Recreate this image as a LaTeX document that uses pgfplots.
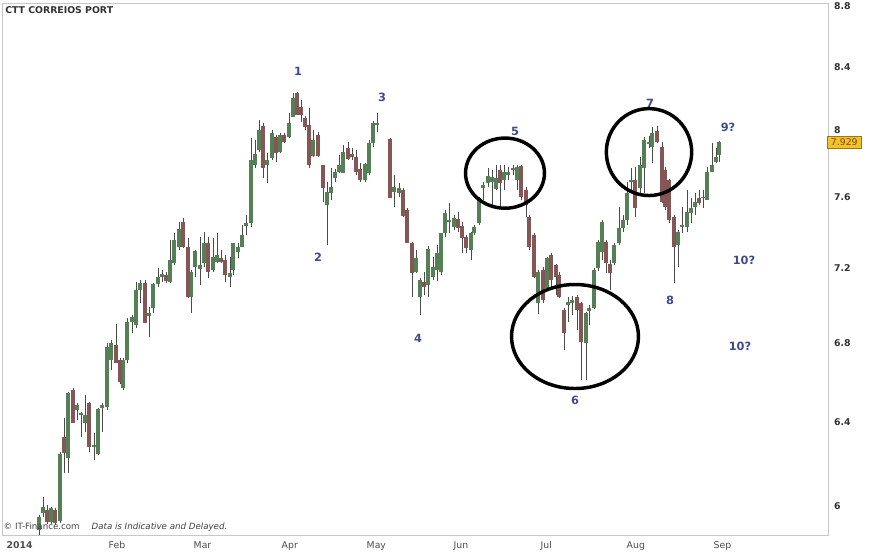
\documentclass[border=0pt]{standalone}
\usepackage{pgfplots}
\pgfplotsset{compat=1.18}
\usepackage{pgfplotstable}
\usepackage{fontspec}
\setmainfont{DejaVu Sans}

\definecolor{upbody}{HTML}{557F55}
\definecolor{dnbody}{HTML}{855656}
\definecolor{wick}{HTML}{4A4A4A}
\definecolor{wave}{HTML}{3E4A8E}
\definecolor{frame}{HTML}{C8C8C8}
\definecolor{tag}{HTML}{F2C12E}
\definecolor{tagedge}{HTML}{9A7A10}
\definecolor{tagtext}{HTML}{8A4A00}

% daily candles, x = position along the time axis
\pgfplotstableread{
x o h l c
39 5.890 5.960 5.860 5.950
43 5.968 6.041 5.950 5.995
51 5.927 5.995 5.918 5.991
60 5.931 6.253 5.922 6.244
68 6.225 6.548 6.154 6.543
77 6.458 6.493 6.409 6.483
81 6.433 6.450 6.326 6.443
85 6.394 6.533 6.350 6.433
94 6.277 6.345 6.215 6.287
98 6.244 6.468 6.239 6.463
102 6.468 6.490 6.350 6.483
107 6.473 6.798 6.458 6.778
111 6.710 6.814 6.659 6.798
123 6.568 6.720 6.558 6.710
127 6.710 6.930 6.695 6.908
132 6.908 6.946 6.850 6.935
136 6.893 7.124 6.877 7.080
140 7.080 7.135 7.010 7.119
149 6.940 6.988 6.830 6.956
153 6.983 7.119 6.956 7.113
158 7.113 7.200 7.096 7.151
162 7.151 7.189 7.124 7.167
170 7.124 7.356 7.119 7.245
174 7.228 7.396 7.217 7.356
179 7.317 7.459 7.300 7.419
191 7.042 7.189 6.956 7.178
195 7.206 7.300 7.151 7.294
200 7.195 7.373 7.108 7.217
204 7.228 7.402 7.206 7.339
213 7.189 7.367 7.178 7.261
217 7.234 7.396 7.228 7.272
230 7.151 7.261 7.096 7.173
233 7.189 7.339 7.162 7.339
238 7.289 7.339 7.256 7.317
242 7.317 7.442 7.317 7.384
246 7.436 7.499 7.384 7.453
251 7.453 7.954 7.430 7.821
255 7.792 7.942 7.774 7.858
259 7.882 8.065 7.870 8.004
267 7.792 7.864 7.685 7.821
272 7.833 8.004 7.821 7.986
280 7.870 7.986 7.864 7.973
289 7.960 8.108 7.954 8.047
293 8.084 8.234 8.084 8.202
313 7.846 8.004 7.839 7.942
327 7.557 7.691 7.328 7.632
331 7.627 7.774 7.586 7.662
335 7.715 7.768 7.691 7.750
339 7.750 7.852 7.744 7.792
343 7.744 7.912 7.744 7.870
365 7.703 7.803 7.691 7.798
369 7.744 7.942 7.733 7.924
373 7.924 8.059 7.900 8.047
377 8.034 8.108 7.992 8.047
394 7.632 7.733 7.545 7.662
399 7.627 7.685 7.603 7.656
416 7.178 7.300 7.173 7.256
420 7.042 7.146 6.946 7.135
428 7.108 7.323 7.042 7.306
433 7.151 7.261 7.135 7.206
437 7.189 7.330 7.130 7.283
441 7.178 7.396 7.162 7.396
445 7.396 7.528 7.373 7.510
449 7.459 7.568 7.396 7.470
454 7.430 7.499 7.413 7.482
471 7.300 7.402 7.245 7.396
474 7.396 7.442 7.384 7.430
479 7.453 7.603 7.442 7.597
483 7.656 7.691 7.586 7.673
488 7.685 7.774 7.662 7.727
492 7.691 7.762 7.557 7.721
496 7.650 7.792 7.644 7.715
504 7.703 7.792 7.644 7.750
508 7.733 7.780 7.703 7.750
513 7.762 7.792 7.733 7.774
517 7.703 7.792 7.644 7.780
538 7.010 7.189 6.951 7.178
547 7.091 7.261 7.086 7.256
568 6.999 7.042 6.908 7.015
572 7.010 7.048 6.946 7.026
586 6.798 6.962 6.608 6.956
589 6.967 6.999 6.893 6.983
594 6.983 7.200 6.978 7.189
598 7.200 7.356 7.184 7.345
602 7.289 7.470 7.245 7.459
614 7.228 7.339 7.217 7.328
619 7.339 7.545 7.328 7.424
623 7.424 7.499 7.402 7.470
627 7.470 7.691 7.442 7.627
631 7.691 7.774 7.632 7.703
640 7.656 7.839 7.627 7.792
644 7.774 7.960 7.627 7.942
649 7.918 7.966 7.894 7.930
652 7.900 8.022 7.803 7.986
678 7.328 7.413 7.206 7.402
682 7.430 7.545 7.396 7.442
687 7.430 7.644 7.402 7.516
691 7.510 7.597 7.453 7.539
695 7.545 7.627 7.499 7.574
703 7.597 7.644 7.539 7.603
707 7.586 7.780 7.586 7.750
712 7.750 7.924 7.750 7.792
716 7.809 7.894 7.803 7.839
719 7.852 7.940 7.809 7.929
}\upcandles

\pgfplotstableread{
x o h l c
47 5.982 6.005 5.918 5.927
55 5.982 5.991 5.913 5.922
64 6.326 6.419 6.154 6.248
73 6.558 6.568 6.394 6.394
89 6.493 6.498 6.253 6.277
116 6.788 6.898 6.695 6.695
120 6.710 6.720 6.588 6.598
145 7.119 7.135 6.903 6.903
166 7.162 7.178 7.119 7.130
183 7.459 7.482 7.311 7.317
188 7.317 7.367 7.037 7.042
208 7.339 7.373 7.146 7.178
221 7.256 7.300 7.228 7.234
225 7.245 7.272 7.124 7.162
263 8.028 8.047 7.715 7.774
276 7.960 7.973 7.809 7.864
284 7.973 7.986 7.924 7.930
297 8.234 8.240 8.096 8.096
301 8.146 8.190 8.053 8.096
305 8.078 8.090 8.004 8.022
309 8.034 8.139 7.774 7.792
318 7.973 7.992 7.839 7.846
323 7.792 7.795 7.574 7.656
348 7.894 7.930 7.821 7.827
352 7.858 7.894 7.821 7.839
356 7.839 7.882 7.733 7.750
360 7.768 7.803 7.691 7.703
390 7.948 7.954 7.597 7.597
403 7.644 7.656 7.488 7.493
407 7.528 7.539 7.339 7.339
412 7.339 7.345 7.042 7.173
424 7.124 7.178 7.053 7.096
458 7.476 7.516 7.402 7.424
462 7.436 7.459 7.283 7.367
466 7.373 7.384 7.283 7.311
500 7.762 7.792 7.545 7.685
521 7.786 7.792 7.586 7.603
526 7.644 7.662 7.488 7.557
529 7.488 7.499 7.300 7.317
534 7.384 7.396 7.146 7.151
543 7.189 7.206 7.010 7.026
551 7.272 7.283 7.096 7.135
556 7.217 7.220 7.053 7.151
559 7.162 7.178 7.037 7.042
564 6.972 6.983 6.762 6.850
577 7.042 7.053 6.866 6.972
581 7.010 7.015 6.608 6.804
606 7.345 7.356 7.173 7.228
610 7.223 7.245 7.080 7.173
635 7.703 7.780 7.488 7.539
657 7.998 8.028 7.924 7.930
662 7.900 7.930 7.568 7.574
665 7.762 7.780 7.528 7.545
669 7.703 7.710 7.453 7.470
674 7.488 7.499 7.119 7.317
699 7.597 7.644 7.557 7.568
}\downcandles

\pgfplotsset{
  candle/.style 2 args={draw=none, mark=none, forget plot,
    error bars/.cd, y dir=plus, y explicit, error mark=none,
    error bar style={draw=#1, line width=#2, solid}},
}

\begin{document}
\begin{tikzpicture}
\begin{axis}[
  scale only axis, width=619.5pt, height=399pt,
  xmin=2, xmax=828, ymode=log, ymin=5.868, ymax=8.822,
  axis line style={draw=frame},
  major tick length=0pt, yminorticks=false, xminorticks=false,
  xtick={2,104,189,277,362,449,536,622,709},
  xticklabels={\textbf{2014},Feb,Mar,Apr,May,Jun,Jul,Aug,Sep},
  x tick label style={anchor=north west, yshift=-1.5pt, font=\fontsize{7}{8}\selectfont, text=black!70},
  ytick={6,6.4,6.8,7.2,7.6,8,8.4,8.8},
  yticklabels={6,6.4,6.8,7.2,7.6,8,8.4,8.8},
  yticklabel pos=right,
  y tick label style={anchor=west, xshift=1pt, font=\bfseries\fontsize{7}{8}\selectfont, text=black!80},
  extra y ticks={7.929}, extra y tick labels={7.929},
  extra y tick style={yticklabel style={anchor=west, xshift=-1.5pt, fill=tag, draw=tagedge, text=tagtext,
    inner xsep=2.5pt, inner ysep=2pt, font=\fontsize{7}{8}\selectfont}},
]
% wicks
\addplot[candle={wick}{0.75pt}]
  table[x=x, y=l, y error plus expr=\thisrow{h}-\thisrow{l}] {\upcandles};
\addplot[candle={wick}{0.75pt}]
  table[x=x, y=l, y error plus expr=\thisrow{h}-\thisrow{l}] {\downcandles};
% bodies
\addplot[candle={upbody}{2.3pt}]
  table[x=x, y=o, y error plus expr={max(\thisrow{c}-\thisrow{o},0.006)}] {\upcandles};
\addplot[candle={dnbody}{2.3pt}]
  table[x=x, y=c, y error plus expr={max(\thisrow{o}-\thisrow{c},0.006)}] {\downcandles};

% wave count
\begin{scope}[every node/.style={text=wave, font=\bfseries\fontsize{8.5}{10}\selectfont}]
\node at (axis cs:298,8.374) {1};
\node at (axis cs:318,7.261) {2};
\node at (axis cs:382,8.203) {3};
\node at (axis cs:418,6.824) {4};
\node at (axis cs:515,7.997) {5};
\node at (axis cs:575,6.508) {6};
\node at (axis cs:650,8.171) {7};
\node at (axis cs:670,7.026) {8};
\node at (axis cs:728,8.022) {9?};
\node at (axis cs:744,7.245) {10?};
\node at (axis cs:740,6.782) {10?};
\end{scope}

\draw[line width=2.6pt] (axis cs:505,7.744) ellipse [x radius=29.6pt, y radius=26.3pt];
\draw[line width=2.6pt] (axis cs:575,6.832) ellipse [x radius=47.6pt, y radius=39pt];
\draw[line width=2.6pt] (axis cs:649,7.870) ellipse [x radius=32pt, y radius=32.6pt];

\node[anchor=north west, inner sep=0pt, font=\bfseries\fontsize{7}{8}\selectfont, text=black!80]
  at ([xshift=2.25pt,yshift=-2.6pt]rel axis cs:0,1) {CTT CORREIOS PORT};
\node[anchor=south west, inner sep=0pt, font=\fontsize{6.5}{8}\selectfont, text=black!75]
  at ([xshift=1pt,yshift=2.5pt]rel axis cs:0,0) {© IT-Finance.com\hspace{9pt}\textit{Data is Indicative and Delayed.}};
\end{axis}
\pgfresetboundingbox
\path ([shift={(-1.5pt,-12pt)}]current axis.south west) rectangle ([shift={(39pt,2.25pt)}]current axis.north east);
\end{tikzpicture}
\end{document}
